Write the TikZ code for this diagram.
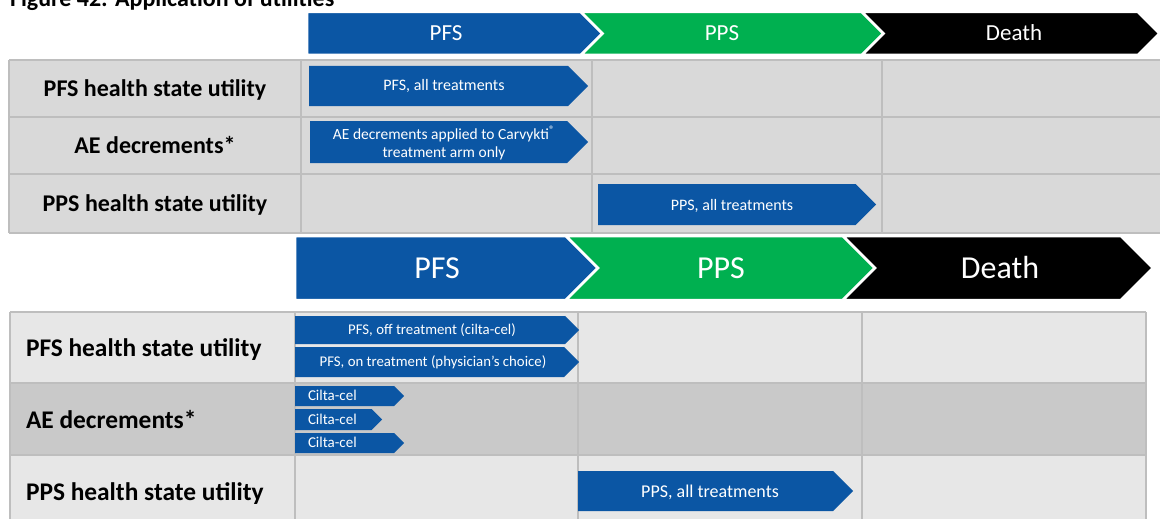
\documentclass[tikz,border=0pt]{standalone}
\usepackage{fontspec}
\setmainfont{Carlito}
\definecolor{cblue}{HTML}{0B56A4}
\definecolor{cgreen}{HTML}{00B050}
\definecolor{tgray}{HTML}{D9D9D9}
\definecolor{lgray}{HTML}{E7E7E7}
\definecolor{dgray}{HTML}{C9C9C9}
\definecolor{gline}{HTML}{BEBEBE}
\newcommand\flatchev[5]{%
  \pgfmathsetmacro\chevd{(#4-#3)/2}\pgfmathsetmacro\chevm{(#4+#3)/2}%
  \filldraw[#5] (#1,#3) -- ({#2-\chevd},#3) -- (#2,\chevm) -- ({#2-\chevd},#4) -- (#1,#4) -- cycle;}
\newcommand\notchchev[5]{%
  \pgfmathsetmacro\chevd{(#4-#3)/2}\pgfmathsetmacro\chevm{(#4+#3)/2}%
  \filldraw[#5] (#1,#3) -- ({#2-\chevd},#3) -- (#2,\chevm) -- ({#2-\chevd},#4) -- (#1,#4) -- ({#1+\chevd},\chevm) -- cycle;}
\tikzset{
  hdrchev/.style={draw=white, line width=2.5pt, line join=miter},
  barchev/.style={fill=cblue, draw=none},
  grid/.style={draw=gline, line width=1.5pt},
  txt/.style={inner sep=0pt, outer sep=0pt},
  hdrtop/.style={txt, text=white, anchor=base, font=\fontsize{23}{27}\selectfont},
  hdrbot/.style={txt, text=white, anchor=base, font=\fontsize{32}{38}\selectfont},
  lbltop/.style={txt, anchor=base, font=\fontsize{24}{28}\selectfont\bfseries},
  lblbot/.style={txt, anchor=base west, font=\fontsize{25.4}{30}\selectfont\bfseries},
  bartxt/.style={txt, text=white, anchor=base},
}
\begin{document}
\begin{tikzpicture}[x=1pt, y=-1pt]
\useasboundingbox (0,0) rectangle (1160,519);
\clip (0,0) rectangle (1160,519);

% title (clipped at top)
\node[txt, anchor=base west, font=\fontsize{24}{28}\selectfont\bfseries] (title) at (10,7) {Figure 42: Application of utilities};

% ---------- top section ----------
% table
\fill[tgray] (9,60) rectangle (1160,233);
\foreach \yy in {60,117,174,233} \draw[grid] (9,\yy) -- (1160,\yy);
\foreach \xx in {9,301,592,882} \draw[grid] (\xx,60) -- (\xx,233);

% header chevrons
\flatchev{307}{602.5}{12}{55}{hdrchev, fill=cblue}
\notchchev{581}{883.5}{12}{55}{hdrchev, fill=cgreen}
\notchchev{862}{1159.5}{12}{55}{hdrchev, fill=black}
\node[hdrtop] (tpfs) at (446,41) {PFS};
\node[hdrtop] (tpps) at (722,41) {PPS};
\node[hdrtop] (tdeath) at (1014,41) {Death};

% labels
\node[lbltop] (tl1) at (155,96.5) {PFS health state utility};
\node[lbltop] (tl2) at (155,153.5) {AE decrements*};
\node[lbltop] (tl3) at (155,211.5) {PPS health state utility};

% bars
\flatchev{309}{588}{66}{106}{barchev}
\flatchev{310}{588}{121}{163}{barchev}
\flatchev{598}{876}{184}{225}{barchev}
\node[bartxt, font=\fontsize{16}{19}\selectfont] (tb1) at (444,91) {PFS, all treatments};
\node[txt, text=white, align=center, font=\fontsize{15.5}{18}\selectfont] (tb2) at (444,143) {AE decrements applied to Carvykti\textsuperscript{\textregistered}\\treatment arm only};
\node[bartxt, font=\fontsize{16}{19}\selectfont] (tb3) at (732,210) {PPS, all treatments};

% ---------- bottom section ----------
\flatchev{295}{598}{236}{300}{hdrchev, fill=cblue}
\notchchev{566}{875}{236}{300}{hdrchev, fill=cgreen}
\notchchev{843}{1153}{236}{300}{hdrchev, fill=black}
\node[hdrbot] (bpfs) at (437,278) {PFS};
\node[hdrbot] (bpps) at (721,278) {PPS};
\node[hdrbot] (bdeath) at (1000,278) {Death};

% table
\fill[lgray] (10,312) rectangle (1146,383);
\fill[dgray] (10,383) rectangle (1146,455);
\fill[lgray] (10,455) rectangle (1146,525);
\foreach \yy in {312,383,455} \draw[grid] (10,\yy) -- (1146,\yy);
\foreach \xx in {10,295,578,862,1146} \draw[grid] (\xx,312) -- (\xx,525);

% labels
\node[lblbot] (bl1) at (26,356) {PFS health state utility};
\node[lblbot] (bl2) at (26,428) {AE decrements*};
\node[lblbot] (bl3) at (26,500) {PPS health state utility};

% bars
\flatchev{295}{579}{316}{344}{barchev}
\flatchev{295}{579}{347}{377}{barchev}
\flatchev{295}{404}{386}{406}{barchev}
\flatchev{295}{382}{409}{430}{barchev}
\flatchev{295}{404}{433}{453}{barchev}
\flatchev{578}{853}{471}{511}{barchev}
\node[bartxt, font=\fontsize{14.8}{17}\selectfont] (bb1) at (432,334.6) {PFS, off treatment (cilta-cel)};
\node[bartxt, font=\fontsize{14.8}{17}\selectfont] (bb2) at (433,366.6) {PFS, on treatment (physician’s choice)};
\node[bartxt, anchor=base west, font=\fontsize{15}{18}\selectfont] (bc1) at (308,400.7) {Cilta-cel};
\node[bartxt, anchor=base west, font=\fontsize{15}{18}\selectfont] (bc2) at (308,424) {Cilta-cel};
\node[bartxt, anchor=base west, font=\fontsize{15}{18}\selectfont] (bc3) at (308,447.7) {Cilta-cel};
\node[bartxt, font=\fontsize{18}{21}\selectfont] (bb3) at (710,497) {PPS, all treatments};
\end{tikzpicture}
\end{document}
